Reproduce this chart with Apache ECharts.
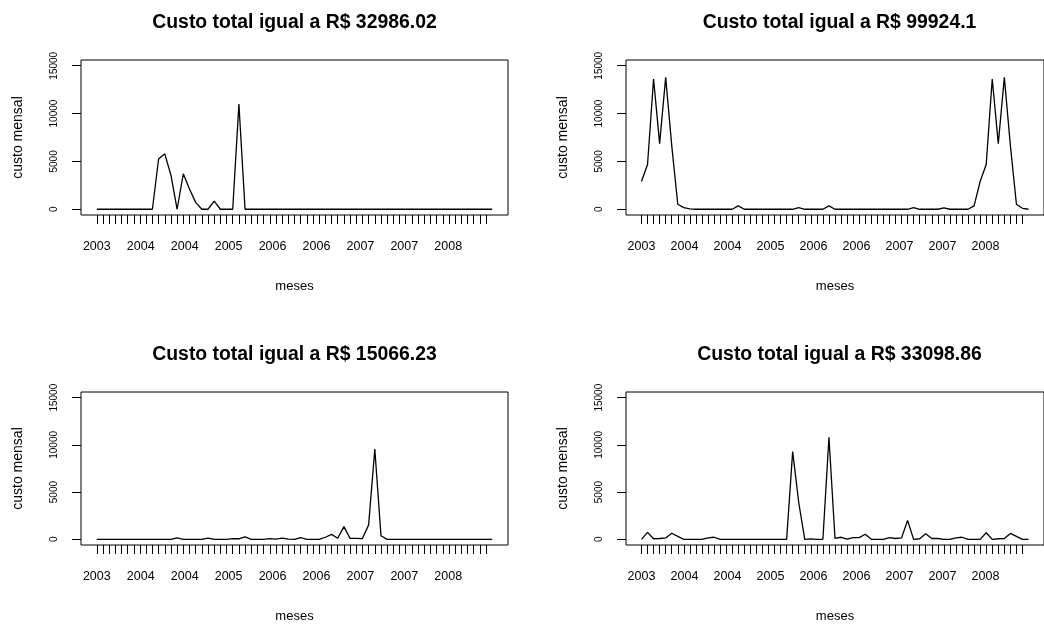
<!DOCTYPE html>
<html>
<head>
<meta charset="utf-8">
<script src="https://cdn.jsdelivr.net/npm/echarts@6/dist/echarts.min.js"></script>
<style>
  html, body { margin: 0; padding: 0; background: #ffffff; }
  #chart { width: 1044px; height: 624px; }
</style>
</head>
<body>
<div id="chart"></div>
<script>
// Monthly cost series for four scenarios, one value per month (65 months).
const custo1 = [
  0, 0, 0, 0, 0, 0, 0, 0, 0, 0,
  5250, 5790, 3560, 0, 3710, 2120, 720, 0, 0, 850,
  0, 0, 0, 10986, 0, 0, 0, 0, 0, 0,
  0, 0, 0, 0, 0, 0, 0, 0, 0, 0,
  0, 0, 0, 0, 0, 0, 0, 0, 0, 0,
  0, 0, 0, 0, 0, 0, 0, 0, 0, 0,
  0, 0, 0, 0, 0
];
const custo2 = [
  2900, 4680, 13617, 6860, 13790, 6680, 520, 170, 30, 0,
  0, 0, 0, 0, 0, 0, 350, 0, 0, 0,
  0, 0, 0, 0, 0, 0, 170, 0, 0, 0,
  0, 350, 0, 0, 0, 0, 0, 0, 0, 0,
  0, 0, 0, 0, 0, 170, 0, 0, 0, 0,
  140.1, 0, 0, 0, 0, 350, 2900, 4680, 13617, 6860,
  13790, 6680, 520, 100, 0
];
const custo3 = [
  0, 0, 0, 0, 0, 0, 0, 0, 0, 0,
  0, 0, 0, 150, 0, 0, 0, 0, 120, 0,
  0, 0, 80, 60, 260, 0, 0, 0, 80, 20,
  120, 20, 0, 180, 0, 0, 0, 220, 520, 120,
  1350, 100, 100, 80, 1530, 9570, 386.23, 0, 0, 0,
  0, 0, 0, 0, 0, 0, 0, 0, 0, 0,
  0, 0, 0, 0, 0
];
const custo4 = [
  0, 740, 60, 90, 150, 640, 320, 0, 0, 0,
  0, 150, 220, 0, 0, 0, 0, 0, 0, 0,
  0, 0, 0, 0, 0, 9290, 3900, 0, 50, 0,
  0, 10811, 90, 220, 30, 180, 180, 540, 0, 0,
  0, 180, 90, 150, 2007.86, 0, 60, 600, 90, 90,
  0, 0, 150, 220, 0, 0, 0, 700, 0, 60,
  90, 630, 320, 0, 0
];

const titulos = [
  'Custo total igual a R$ 32986.02',
  'Custo total igual a R$ 99924.1',
  'Custo total igual a R$ 15066.23',
  'Custo total igual a R$ 33098.86'
];

// Tick marks under each month (1..64) and the year labels along the axis.
const tickPositions = [
  1, 2, 3, 4, 5, 6, 7, 8, 9, 10, 11, 12, 13, 14, 15, 16,
  17, 18, 19, 20, 21, 22, 23, 24, 25, 26, 27, 28, 29, 30, 31, 32,
  33, 34, 35, 36, 37, 38, 39, 40, 41, 42, 43, 44, 45, 46, 47, 48,
  49, 50, 51, 52, 53, 54, 55, 56, 57, 58, 59, 60, 61, 62, 63, 64
];
const yearLabelPositions = [1, 8.111, 15.222, 22.333, 29.444, 36.556, 43.667, 50.778, 57.889];
const yearLabels = ['2003', '2004', '2004', '2005', '2006', '2006', '2007', '2007', '2008'];
const yTicks = [0, 5000, 10000, 15000];

const series = [custo1, custo2, custo3, custo4];
const FONT = '"Liberation Sans", Arial, Helvetica, sans-serif';

const grids = [
  { left: 81, top: 60 },
  { left: 626, top: 60 },
  { left: 81, top: 392 },
  { left: 626, top: 392 }
];
const GW = 427, GH = 155;

function yearLabelFor(v) {
  let best = 0;
  for (let i = 1; i < yearLabelPositions.length; i++) {
    if (Math.abs(yearLabelPositions[i] - v) < Math.abs(yearLabelPositions[best] - v)) best = i;
  }
  return yearLabels[best];
}

const option = {
  animation: false,
  backgroundColor: '#ffffff',
  grid: grids.map(g => ({
    left: g.left, top: g.top, width: GW, height: GH,
    show: true, borderColor: '#000000', borderWidth: 1, backgroundColor: 'transparent',
    containLabel: false
  })),
  xAxis: grids.map((g, i) => ({
    gridIndex: i,
    type: 'value',
    min: -1.56,
    max: 67.56,
    axisLine: { show: false, onZero: false },
    splitLine: { show: false },
    axisTick: {
      show: true, customValues: tickPositions, length: 9, inside: false,
      lineStyle: { color: '#000000', width: 1 }
    },
    axisLabel: {
      show: true, customValues: yearLabelPositions, formatter: yearLabelFor,
      color: '#000000', fontFamily: FONT, fontSize: 12.5, margin: 25
    },
    name: 'meses',
    nameLocation: 'middle',
    nameGap: 65,
    nameTextStyle: { color: '#000000', fontFamily: FONT, fontSize: 13 }
  })),
  yAxis: grids.map((g, i) => ({
    gridIndex: i,
    type: 'value',
    min: -600,
    max: 15600,
    axisLine: { show: false, onZero: false },
    splitLine: { show: false },
    axisTick: {
      show: true, customValues: yTicks, length: 9, inside: false,
      lineStyle: { color: '#000000', width: 1 }
    },
    axisLabel: {
      show: true, customValues: yTicks, rotate: 90,
      formatter: v => String(v),
      color: '#000000', fontFamily: FONT, fontSize: 10, margin: 22
    },
    name: 'custo mensal',
    nameLocation: 'middle',
    nameRotate: 90,
    nameGap: 56,
    nameTextStyle: { color: '#000000', fontFamily: FONT, fontSize: 14 }
  })),
  series: series.map((vals, i) => ({
    type: 'line',
    xAxisIndex: i,
    yAxisIndex: i,
    data: vals.map((v, k) => [k + 1, v]),
    showSymbol: false,
    symbol: 'none',
    lineStyle: { color: '#000000', width: 1.3 },
    silent: true
  })),
  graphic: titulos.map((t, i) => ({
    type: 'text',
    x: grids[i].left + GW / 2,
    y: grids[i].top - 37,
    style: {
      text: t,
      textAlign: 'center',
      textVerticalAlign: 'middle',
      font: 'bold 19.4px ' + FONT,
      fill: '#000000'
    }
  }))
};

const chart = echarts.init(document.getElementById('chart'), null, { renderer: 'canvas' });
chart.setOption(option);
</script>
</body>
</html>
